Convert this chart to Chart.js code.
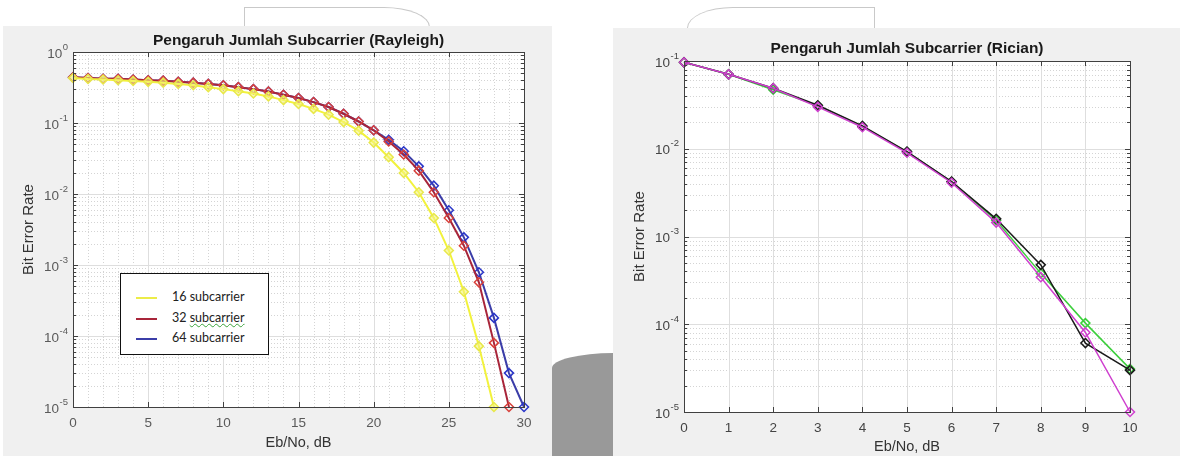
<!DOCTYPE html>
<html>
<head>
<meta charset="utf-8">
<script src="https://cdn.jsdelivr.net/npm/chart.js@4.4.1/dist/chart.umd.min.js"></script>
<style>
  html, body { margin: 0; padding: 0; background: #fff; }
  #page { position: relative; width: 1180px; height: 456px; overflow: hidden; background: #fff; }
  .panel { position: absolute; background: #f0f0f0; }
  .tab { position: absolute; background: #fff; border: 1px solid #c9c9c9; border-bottom: none; }
  #gap { position: absolute; left: 552px; top: 353px; width: 61px; height: 103px; background: #999;
         border-top-left-radius: 61px 15px; }
  canvas { position: absolute; top: 0; }
  #legend { position: absolute; left: 120px; top: 273px; width: 147px; height: 80px; background: #fff;
            border: 1px solid #111; font-family: Lato, "Open Sans", sans-serif; font-size: 12.5px; color: #222; }
  .row { position: absolute; left: 0; height: 16px; line-height: 16px; }
  .row i { position: absolute; left: 15px; top: 8px; width: 21px; height: 0; border-top: 2px solid; }
  .row span { position: absolute; left: 51px; white-space: nowrap; }
  .wavy { text-decoration: underline wavy #3aa33a; text-decoration-thickness: 1px; }
</style>
</head>
<body>
<div id="page">
  <div class="tab" style="left:244px; top:7px; width:184px; height:20px; border-top-right-radius:46px 20px;"></div>
  <div class="tab" style="left:687px; top:7px; width:186px; height:21px; border-top-left-radius:46px 21px;"></div>
  <div class="panel" style="left:3px; top:26px; width:549px; height:430px;"></div>
  <div class="panel" style="left:613px; top:28px; width:567px; height:428px;"></div>
  <div id="gap"></div>
  <canvas id="rayleigh" width="590" height="456" style="left:0;"></canvas>
  <canvas id="rician" width="567" height="456" style="left:613px;"></canvas>
  <div id="legend">
    <div class="row" style="top:15px;"><i style="border-color:#ecec48;"></i><span>16 subcarrier</span></div>
    <div class="row" style="top:36px;"><i style="border-color:#a8253a;"></i><span>32 <span class="wavy" style="position:static;">subcarrier</span></span></div>
    <div class="row" style="top:56px;"><i style="border-color:#3b3da8;"></i><span>64 subcarrier</span></div>
  </div>
</div>
<script>
// Rayleigh: Eb/No 0..30 dB
const ebnoRay = [0, 1, 2, 3, 4, 5, 6, 7, 8, 9, 10, 11, 12, 13, 14, 15, 16, 17, 18, 19, 20,
  21, 22, 23, 24, 25, 26, 27, 28, 29, 30];
const ray16 = [0.43, 0.417, 0.41, 0.40, 0.39, 0.38, 0.37, 0.355, 0.34, 0.32, 0.30, 0.28, 0.26,
  0.237, 0.21, 0.185, 0.158, 0.131, 0.103, 0.078, 0.053, 0.033, 0.0198, 0.0106, 0.0046,
  0.0016, 0.00042, 0.000072, 0.00001];
const ray32 = [0.44, 0.43, 0.42, 0.42, 0.41, 0.40, 0.395, 0.38, 0.37, 0.355, 0.34, 0.32, 0.30,
  0.277, 0.25, 0.225, 0.197, 0.168, 0.135, 0.105, 0.079, 0.055, 0.036, 0.0213, 0.0106,
  0.0046, 0.00187, 0.00057, 0.00008, 0.00001];
const ray64 = [0.44, 0.43, 0.42, 0.42, 0.41, 0.40, 0.395, 0.38, 0.37, 0.355, 0.34, 0.32, 0.30,
  0.277, 0.25, 0.225, 0.197, 0.168, 0.135, 0.105, 0.079, 0.058, 0.040, 0.0245, 0.0131,
  0.0059, 0.00245, 0.00079, 0.00018, 0.00003, 0.00001];

// Rician: Eb/No 0..10 dB
const ebnoRic = [0, 1, 2, 3, 4, 5, 6, 7, 8, 9, 10];
const ricGreen = [0.0966, 0.0705, 0.047, 0.031, 0.018, 0.0092, 0.0042, 0.00153, 0.00038, 0.000103, 0.000031];
const ricBlack = [0.0966, 0.0705, 0.049, 0.0313, 0.0182, 0.0093, 0.00423, 0.00159, 0.000475, 0.000061, 0.00003];
const ricMagenta = [0.0966, 0.0705, 0.049, 0.030, 0.0176, 0.009, 0.0041, 0.00144, 0.000344, 0.0000807, 0.00001];

Chart.defaults.font.family = '"Liberation Sans", Arial, sans-serif';

function toPoints(xs, ys) {
  return ys.map((v, i) => ({ x: xs[i], y: v }));
}

function series(label, xs, ys, line, marker, fill, width) {
  return {
    label: label,
    data: toPoints(xs, ys),
    borderColor: line,
    borderWidth: width,
    pointStyle: 'rectRot',
    pointRadius: 4.5,
    pointBorderWidth: 1.5,
    pointBorderColor: marker,
    pointBackgroundColor: fill,
    tension: 0,
    clip: 8
  };
}

// matlab-like axes: white box, grids, inward ticks, 10^n labels, title
const matlabAxes = {
  id: 'matlabAxes',
  beforeDraw(chart) {
    const a = chart.chartArea, ctx = chart.ctx;
    ctx.save();
    ctx.fillStyle = '#fff';
    ctx.fillRect(a.left, a.top, a.right - a.left, a.bottom - a.top);
    ctx.restore();
  },
  beforeDatasetsDraw(chart, args, opts) {
    const a = chart.chartArea, ctx = chart.ctx;
    const xs = chart.scales.x, ys = chart.scales.y;
    ctx.save();
    ctx.lineWidth = 1;
    // minor y grid
    ctx.strokeStyle = '#d4d4d4';
    ctx.setLineDash([1, 2]);
    for (let e = opts.minExp; e < opts.maxExp; e++) {
      for (let m = 2; m <= 9; m++) {
        const y = Math.round(ys.getPixelForValue(m * Math.pow(10, e))) + 0.5;
        ctx.beginPath(); ctx.moveTo(a.left, y); ctx.lineTo(a.right, y); ctx.stroke();
      }
    }
    // minor x grid
    if (opts.minorX) {
      for (let v = xs.min; v <= xs.max; v += opts.minorX) {
        if (v % opts.majorX === 0) continue;
        const x = Math.round(xs.getPixelForValue(v)) + 0.5;
        ctx.beginPath(); ctx.moveTo(x, a.top); ctx.lineTo(x, a.bottom); ctx.stroke();
      }
    }
    // major grid
    ctx.setLineDash([]);
    ctx.strokeStyle = '#dedede';
    for (let e = opts.minExp; e <= opts.maxExp; e++) {
      const y = Math.round(ys.getPixelForValue(Math.pow(10, e))) + 0.5;
      ctx.beginPath(); ctx.moveTo(a.left, y); ctx.lineTo(a.right, y); ctx.stroke();
    }
    for (let v = xs.min; v <= xs.max; v += opts.majorX) {
      const x = Math.round(xs.getPixelForValue(v)) + 0.5;
      ctx.beginPath(); ctx.moveTo(x, a.top); ctx.lineTo(x, a.bottom); ctx.stroke();
    }
    ctx.restore();
  },
  afterDatasetsDraw(chart, args, opts) {
    const a = chart.chartArea, ctx = chart.ctx;
    const xs = chart.scales.x, ys = chart.scales.y;
    ctx.save();
    ctx.strokeStyle = '#404040';
    ctx.lineWidth = 1;
    // ticks
    for (let v = xs.min; v <= xs.max; v += opts.majorX) {
      const x = Math.round(xs.getPixelForValue(v)) + 0.5;
      ctx.beginPath();
      ctx.moveTo(x, a.bottom); ctx.lineTo(x, a.bottom - 5);
      ctx.moveTo(x, a.top); ctx.lineTo(x, a.top + 5);
      ctx.stroke();
    }
    for (let e = opts.minExp; e <= opts.maxExp; e++) {
      for (let m = 1; m <= 9; m++) {
        if (e === opts.maxExp && m > 1) break;
        const y = Math.round(ys.getPixelForValue(m * Math.pow(10, e))) + 0.5;
        const len = m === 1 ? 5 : 3;
        ctx.beginPath();
        ctx.moveTo(a.left, y); ctx.lineTo(a.left + len, y);
        ctx.moveTo(a.right, y); ctx.lineTo(a.right - len, y);
        ctx.stroke();
      }
    }
    // box
    ctx.strokeRect(Math.round(a.left) + 0.5, Math.round(a.top) + 0.5,
      Math.round(a.right - a.left), Math.round(a.bottom - a.top));
    // y tick labels 10^n
    ctx.fillStyle = opts.tickColor;
    for (let e = opts.minExp; e <= opts.maxExp; e++) {
      const y = ys.getPixelForValue(Math.pow(10, e));
      const ex = String(e);
      ctx.font = '9.5px "Liberation Sans", Arial';
      const w = ctx.measureText(ex).width;
      ctx.textAlign = 'left';
      ctx.textBaseline = 'middle';
      ctx.fillText(ex, a.left - 5 - w, y - 5);
      ctx.font = '13.5px "Liberation Sans", Arial';
      ctx.textAlign = 'right';
      ctx.fillText('10', a.left - 5.5 - w, y + 2);
    }
    // title
    ctx.fillStyle = '#1a1a1a';
    ctx.font = 'bold 15.5px "Liberation Sans", Arial';
    ctx.textAlign = 'center';
    ctx.textBaseline = 'middle';
    ctx.fillText(opts.title, (a.left + a.right) / 2, a.top - opts.titleGap);
    ctx.restore();
  }
};

function axesOptions(cfg) {
  return {
    responsive: false,
    animation: false,
    layout: { padding: cfg.padding },
    plugins: {
      legend: { display: false },
      tooltip: { enabled: false },
      matlabAxes: cfg.axes
    },
    scales: {
      x: {
        type: 'linear',
        min: cfg.xMin,
        max: cfg.xMax,
        ticks: { stepSize: cfg.axes.majorX, color: cfg.axes.tickColor, font: { size: 13.5 }, padding: 8, maxRotation: 0 },
        grid: { display: false, drawTicks: false },
        border: { display: false },
        title: { display: true, text: 'Eb/No, dB', color: '#333', font: { size: 14.5 }, padding: { top: 0, bottom: cfg.xTitlePad } },
        afterFit(s) { s.height = cfg.xHeight; }
      },
      y: {
        type: 'logarithmic',
        min: cfg.yMin,
        max: cfg.yMax,
        ticks: { display: false },
        grid: { display: false, drawTicks: false },
        border: { display: false },
        title: { display: true, text: 'Bit Error Rate', color: '#333', font: { size: 15 }, padding: { top: cfg.yTitlePad, bottom: 0 } },
        afterFit(s) { s.width = cfg.yWidth; }
      }
    }
  };
}

new Chart(document.getElementById('rayleigh'), {
  type: 'line',
  data: {
    datasets: [
      series('16 subcarrier', ebnoRay, ray16, '#f2f23c', '#e8e84a', 'rgba(245,245,120,0.6)', 2),
      series('32 subcarrier', ebnoRay, ray32, '#a8253a', '#d8403a', 'rgba(255,255,255,0)', 2),
      series('64 subcarrier', ebnoRay, ray64, '#3b3da8', '#2a36c8', 'rgba(255,255,255,0)', 2)
    ]
  },
  options: axesOptions({
    padding: { left: 0, top: 52, right: 66, bottom: 0 },
    xMin: 0, xMax: 30, yMin: 1e-5, yMax: 1,
    xHeight: 49, yWidth: 73, xTitlePad: 4, yTitlePad: 20,
    axes: { title: 'Pengaruh Jumlah Subcarrier (Rayleigh)', minExp: -5, maxExp: 0,
            majorX: 5, minorX: 1, tickColor: '#5a5a5a', titleGap: 11 }
  }),
  plugins: [matlabAxes]
});

new Chart(document.getElementById('rician'), {
  type: 'line',
  data: {
    datasets: [
      series('magenta', ebnoRic, ricMagenta, '#cf3fcf', '#cf3fcf', 'rgba(255,255,255,0)', 1.5),
      series('black', ebnoRic, ricBlack, '#1a1a1a', '#1a1a1a', 'rgba(255,255,255,0)', 1.5),
      series('green', ebnoRic, ricGreen, '#3ccf3c', '#3ccf3c', 'rgba(255,255,255,0)', 1.5)
    ]
  },
  options: axesOptions({
    padding: { left: 0, top: 61, right: 50, bottom: 0 },
    xMin: 0, xMax: 10, yMin: 1e-5, yMax: 1e-1,
    xHeight: 44, yWidth: 71, xTitlePad: 0, yTitlePad: 18,
    axes: { title: 'Pengaruh Jumlah Subcarrier (Rician)', minExp: -5, maxExp: -1,
            majorX: 1, minorX: 0, tickColor: '#444', titleGap: 12 }
  }),
  plugins: [matlabAxes]
});
</script>
</body>
</html>
